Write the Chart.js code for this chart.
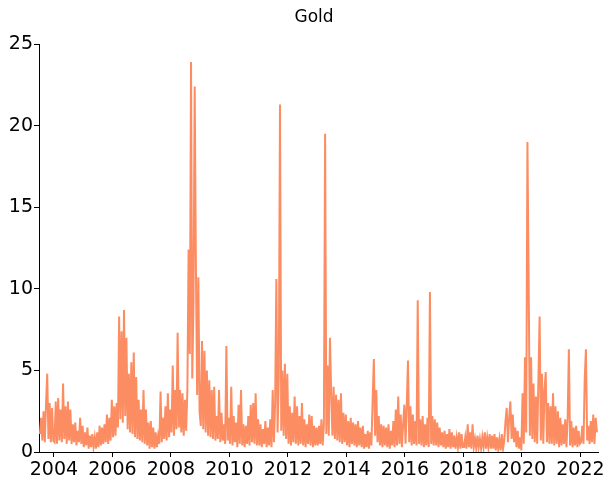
<!DOCTYPE html>
<html>
<head>
<meta charset="utf-8">
<script src="https://cdn.jsdelivr.net/npm/chart.js@4.4.1/dist/chart.umd.min.js"></script>
<style>
  html, body { margin: 0; padding: 0; background: #ffffff; }
  #wrap { width: 608px; height: 485px; }
</style>
</head>
<body>
<div id="wrap"><canvas id="c" width="608" height="485"></canvas></div>
<script>
// Gold volatility, two readings per month (first / second half of each month).
const chartTitle = 'Gold';
const yearTicks = [2004, 2006, 2008, 2010, 2012, 2014, 2016, 2018, 2020, 2022];

// 2003 starts in July
const gold2003 = [1.1, 2.1, 0.7, 2.5, 0.6, 2.9, 4.8, 0.8, 3.0, 0.6, 2.7, 0.7];
const gold2004 = [0.6, 3.1, 0.5, 3.3, 0.7, 2.6, 0.6, 4.2, 0.8, 2.8, 0.5, 3.1, 0.7, 2.6, 0.5, 1.7, 0.6, 1.8, 0.4, 1.3, 0.6, 2.1, 0.5, 1.6];
const gold2005 = [0.3, 1.2, 0.4, 1.5, 0.2, 1.0, 0.3, 1.1, 0.3, 0.9, 0.2, 1.2, 0.3, 1.6, 0.4, 1.5, 0.5, 1.7, 0.6, 2.3, 0.5, 2.1, 0.7, 3.2];
const gold2006 = [0.9, 2.8, 1.0, 3.0, 1.5, 8.3, 2.0, 7.4, 1.8, 8.7, 2.2, 7.0, 1.4, 4.8, 1.2, 5.5, 1.1, 6.1, 0.9, 4.6, 0.8, 3.2, 0.7, 2.6];
const gold2007 = [0.6, 3.8, 0.5, 2.6, 0.4, 1.8, 0.2, 1.9, 0.3, 1.5, 0.2, 1.2, 0.3, 1.0, 0.5, 3.7, 0.6, 2.1, 0.8, 2.8, 0.7, 3.6, 0.9, 2.6];
const gold2008 = [1.2, 5.3, 1.0, 3.8, 1.4, 7.3, 1.5, 3.8, 1.2, 3.6, 1.0, 3.2, 1.3, 3.8, 12.4, 6.0, 23.9, 4.5, 9.0, 22.4, 11.3, 3.5, 10.7, 2.5];
const gold2009 = [1.6, 6.8, 1.4, 6.2, 1.2, 5.0, 1.0, 4.4, 0.9, 3.8, 0.8, 4.0, 0.7, 2.2, 0.8, 3.8, 0.6, 2.4, 0.7, 1.7, 0.5, 6.5, 0.7, 2.1];
const gold2010 = [0.5, 4.0, 0.4, 2.2, 0.6, 1.8, 0.3, 2.9, 0.5, 3.8, 0.4, 1.7, 0.3, 1.6, 0.5, 2.2, 0.4, 2.9, 0.6, 3.0, 0.5, 3.6, 0.4, 2.0];
const gold2011 = [0.4, 1.7, 0.3, 1.4, 0.5, 1.9, 0.3, 1.5, 0.4, 2.0, 0.3, 3.8, 0.6, 3.0, 10.6, 1.2, 4.5, 21.3, 1.3, 5.0, 1.0, 5.4, 0.8, 4.8];
const gold2012 = [0.5, 2.8, 0.4, 2.4, 0.6, 3.4, 0.5, 2.8, 0.4, 2.2, 0.5, 3.0, 0.4, 2.0, 0.3, 1.7, 0.5, 2.3, 0.4, 2.2, 0.3, 1.6, 0.4, 1.5];
const gold2013 = [0.4, 1.6, 0.5, 2.0, 0.4, 1.7, 19.5, 1.1, 5.3, 1.0, 7.0, 3.6, 1.0, 4.0, 0.8, 3.5, 0.7, 3.2, 0.6, 3.6, 0.5, 2.4, 0.6, 2.3];
const gold2014 = [0.4, 1.9, 0.3, 2.1, 0.5, 1.8, 0.4, 1.7, 0.3, 1.9, 0.4, 1.5, 0.3, 1.6, 0.2, 1.1, 0.3, 1.3, 0.2, 1.2, 0.4, 3.2, 5.7, 1.0];
const gold2015 = [3.8, 0.6, 2.2, 0.4, 1.7, 0.3, 1.6, 0.4, 1.5, 0.3, 1.7, 0.2, 1.3, 0.4, 1.9, 0.3, 2.6, 0.4, 3.4, 0.5, 2.3, 0.3, 1.7, 2.9];
const gold2016 = [0.5, 2.9, 5.6, 0.6, 2.8, 0.4, 2.3, 0.5, 1.9, 0.4, 9.3, 0.5, 2.0, 0.4, 2.2, 0.3, 1.7, 0.4, 2.1, 0.3, 9.8, 0.5, 2.2, 0.4];
const gold2017 = [2.0, 0.4, 1.8, 0.3, 1.5, 0.4, 1.2, 0.3, 1.3, 0.2, 1.1, 0.3, 1.4, 0.2, 1.2, 0.3, 1.0, 0.2, 0.9, 0.3, 1.2, 0.2, 1.1, 0.3];
const gold2018 = [0.3, 0.9, 0.2, 1.7, 0.3, 1.2, 0.2, 1.7, 0.3, 0.8, 0.2, 1.0, 0.3, 0.8, 0.2, 0.9, 0.3, 1.2, 0.2, 0.9, 0.3, 1.1, 0.2, 1.0];
const gold2019 = [0.2, 1.1, 0.1, 0.9, 0.2, 0.8, 0.1, 1.1, 0.2, 0.7, 1.9, 2.7, 0.6, 2.1, 3.1, 0.8, 2.3, 0.6, 1.5, 0.3, 1.3, 0.2, 0.9, 0.1];
const gold2020 = [3.6, 0.5, 5.8, 1.2, 19.0, 10.4, 1.0, 5.8, 0.8, 4.2, 0.6, 3.4, 0.5, 4.4, 8.3, 0.7, 4.8, 0.5, 3.8, 4.9, 0.6, 3.0, 0.5, 2.8];
const gold2021 = [0.5, 3.6, 0.4, 2.8, 0.5, 2.5, 0.3, 2.1, 0.4, 1.7, 0.5, 2.0, 0.3, 2.1, 6.3, 0.4, 1.9, 0.3, 1.5, 0.4, 1.6, 0.3, 1.3, 0.5];
// 2022 runs through July
const gold2022 = [0.6, 1.6, 0.5, 4.5, 6.3, 0.7, 1.6, 0.5, 1.9, 0.6, 2.3, 0.5, 2.1, 1.2];

const yearSeries = [
  [2003, gold2003, 12], [2004, gold2004, 0], [2005, gold2005, 0], [2006, gold2006, 0],
  [2007, gold2007, 0], [2008, gold2008, 0], [2009, gold2009, 0], [2010, gold2010, 0],
  [2011, gold2011, 0], [2012, gold2012, 0], [2013, gold2013, 0], [2014, gold2014, 0],
  [2015, gold2015, 0], [2016, gold2016, 0], [2017, gold2017, 0], [2018, gold2018, 0],
  [2019, gold2019, 0], [2020, gold2020, 0], [2021, gold2021, 0], [2022, gold2022, 0]
];

const points = [];
yearSeries.forEach(([year, values, offset]) => {
  values.forEach((v, i) => {
    points.push({ x: year + (offset + i + 0.5) / 24, y: v });
  });
});

const fontFamily = "'DejaVu Sans', Verdana, sans-serif";
const tickFont = { family: fontFamily, size: 19 };

// Title drawn centred over the plot at a fixed x
const titlePlugin = {
  id: 'plotTitle',
  afterDraw(chart) {
    const ctx = chart.ctx;
    ctx.save();
    ctx.font = '17px ' + fontFamily;
    ctx.fillStyle = '#000000';
    ctx.textAlign = 'center';
    ctx.textBaseline = 'middle';
    ctx.fillText(chartTitle, 314, 18);
    ctx.restore();
  }
};

new Chart(document.getElementById('c'), {
  type: 'line',
  data: {
    datasets: [{
      data: points,
      borderColor: '#fc8d62',
      borderWidth: 2.0,
      pointRadius: 0,
      tension: 0,
      fill: false,
      borderJoinStyle: 'miter'
    }]
  },
  options: {
    responsive: false,
    animation: false,
    events: [],
    layout: { padding: { left: 0, right: 10, top: 44, bottom: 0 } },
    plugins: {
      legend: { display: false },
      tooltip: { enabled: false },
      title: { display: false }
    },
    scales: {
      x: {
        type: 'linear',
        min: 2003.49,
        max: 2022.6,
        afterBuildTicks: (scale) => { scale.ticks = yearTicks.map(v => ({ value: v })); },
        afterFit: (scale) => { scale.height = 33; },
        grid: { display: true, drawOnChartArea: false, drawTicks: true, tickLength: 5, tickColor: '#000000' },
        border: { display: true, color: '#000000', width: 1 },
        ticks: {
          color: '#000000',
          font: tickFont,
          padding: 2,
          maxRotation: 0,
          autoSkip: false,
          callback: (v) => String(v)
        }
      },
      y: {
        min: 0,
        max: 25,
        afterFit: (scale) => { scale.width = 39; },
        grid: { display: true, drawOnChartArea: false, drawTicks: true, tickLength: 5, tickColor: '#000000' },
        border: { display: true, color: '#000000', width: 1 },
        ticks: {
          color: '#000000',
          font: tickFont,
          padding: 1,
          stepSize: 5
        }
      }
    }
  },
  plugins: [titlePlugin]
});
</script>
</body>
</html>
